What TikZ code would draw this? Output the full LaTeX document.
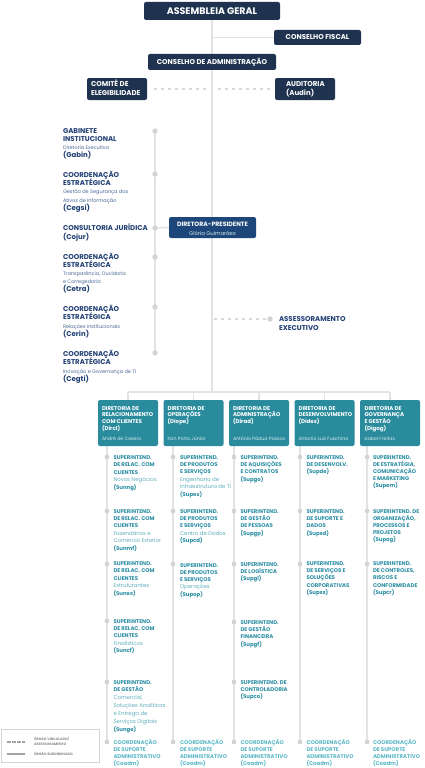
\documentclass[tikz,border=0pt]{standalone}
\usepackage{fontspec}
\setmainfont{Poppins}
\usetikzlibrary{backgrounds}
\definecolor{navy}{HTML}{1F3350}
\definecolor{dpblue}{HTML}{1D477A}
\definecolor{navytxt}{HTML}{213F74}
\definecolor{navylight}{HTML}{4A6898}
\definecolor{tealbox}{HTML}{2A8B9D}
\definecolor{tealtxt}{HTML}{2A8EA3}
\definecolor{teallight}{HTML}{5FAEBB}
\definecolor{tealname}{HTML}{D6ECF0}
\definecolor{coadmc}{HTML}{5BB7C6}
\definecolor{linegray}{HTML}{E3E3E3}
\definecolor{dotgray}{HTML}{D3D3D3}
\definecolor{dashgray}{HTML}{DADADA}
\definecolor{leggray}{HTML}{8C8C8C}
\newcommand\blk[2]{\vtop{\baselineskip=#1pt\lineskiplimit=-100pt\lineskip=0pt\halign{##\hfil\cr#2\crcr}}}
\newcommand\fT{\fontsize{9.5}{11}\selectfont\bfseries}
\newcommand\fB{\fontsize{7}{8}\selectfont\bfseries}
\newcommand\fL{\normalfont\fontsize{5}{6}\selectfont}
\newcommand\fD{\fontsize{5.5}{7}\selectfont\bfseries}
\newcommand\fN{\fontsize{4.7}{7}\selectfont}
\newcommand\fS{\fontsize{5.4}{7}\selectfont\bfseries}
\newcommand\fSL{\normalfont\fontsize{5.4}{7}\selectfont}
\newcommand\ltA{\fL\color{navylight}}
\newcommand\ltB{\fSL\color{teallight}}
\begin{document}
\begin{tikzpicture}[x=1pt,y=-1pt,
  every node/.style={inner sep=0pt, outer sep=0pt},
  navybox/.style={fill=navy, rounded corners=2pt, text=white, font=\fB, align=center},
  lc/.style={anchor=base west, text=navytxt, font=\fB},
  dot/.style={circle, fill=dotgray, minimum size=5.4pt},
  sdot/.style={circle, fill=dotgray, minimum size=4.8pt},
  gline/.style={draw=linegray, line width=1.3pt},
  dline/.style={draw=dashgray, line width=1.3pt, dash pattern=on 3pt off 4pt},
  tbox/.style={fill=tealbox, rounded corners=2pt, minimum width=60pt, minimum height=46pt, anchor=north west},
  tt/.style={anchor=base west, text=white, font=\fD},
  tn/.style={anchor=base west, text=tealname, font=\fN},
  st/.style={anchor=base west, text=tealtxt, font=\fS},
  co/.style={anchor=base west, text=coadmc, font=\fS}]
\useasboundingbox (0,0) rectangle (425,768);
% top boxes
\node[navybox, font=\fT, minimum width=136pt, minimum height=18pt] (ag) at (212,11) {ASSEMBLEIA GERAL};
\node[navybox, minimum width=87pt, minimum height=15pt] (cf) at (317.5,37.5) {CONSELHO FISCAL};
\node[navybox, minimum width=128pt, minimum height=16pt] (ca) at (212,62) {CONSELHO DE ADMINISTRAÇÃO};
\node[navybox, minimum width=60pt, minimum height=22pt, anchor=north west] (ce) at (87,78) {};
\node[anchor=base west, text=white, font=\fB] (cet) at (91,86.3) {\blk{8.7}{COMITÊ DE\cr ELEGIBILIDADE}};
\node[navybox, minimum width=60pt, minimum height=22pt, anchor=north west] (au) at (275,78) {};
\node[anchor=base west, text=white, font=\fB] (aut) at (286,86.3) {\blk{8.7}{AUDITORIA\cr (Audin)}};
\coordinate (barC) at (212,392);
% left column
\node[lc] (gab) at (63,133.5) {\blk{8.1}{GABINETE\cr INSTITUCIONAL\cr\ltA Diretoria Executiva\cr (Gabin)}};
\node[lc] (ceg) at (63,177.5) {\blk{8.2}{COORDENAÇÃO\cr ESTRATÉGICA\cr\ltA Gestão de Segurança dos\cr\ltA Ativos de Informação\cr (Cegsi)}};
\node[lc] (coj) at (63,230.5) {\blk{9}{CONSULTORIA JURÍDICA\cr (Cojur)}};
\node[lc] (cet2) at (63,259.5) {\blk{8}{COORDENAÇÃO\cr ESTRATÉGICA\cr\ltA Transparência, Ouvidoria\cr\ltA e Corregedoria\cr (Cetra)}};
\node[lc] (cer) at (63,311.5) {\blk{8.3}{COORDENAÇÃO\cr ESTRATÉGICA\cr\ltA Relações Institucionais\cr (Cerin)}};
\node[lc] (cti) at (63,356.5) {\blk{8.3}{COORDENAÇÃO\cr ESTRATÉGICA\cr\ltA Inovação e Governança de TI\cr (Cegti)}};
\node[dot] (p1) at (155,131) {};
\node[dot] (p2) at (155,174) {};
\node[dot] (p3) at (155,228) {};
\node[dot] (p4) at (155,257) {};
\node[dot] (p5) at (155,307) {};
\node[dot] (p6) at (155,353) {};
\node[fill=dpblue, rounded corners=2pt, minimum width=87pt, minimum height=21pt, anchor=north west] (dp) at (169,217) {};
\node[text=white, font=\fontsize{6.2}{7}\selectfont\bfseries] (dpt) at (212.5,224) {DIRETORA-PRESIDENTE};
\node[text=tealname, font=\fontsize{5.3}{7}\selectfont] (dpn) at (212.5,233) {Glória Guimarães};
% assessoramento
\node[dot] (aed) at (270,319) {};
\node[lc] (ae) at (279,321.5) {\blk{8.7}{ASSESSORAMENTO\cr EXECUTIVO}};
% directorates
\node[tbox] (d1) at (98,400) {};
\node[tt] (d1t) at (102,410) {\blk{6.9}{DIRETORIA DE\cr RELACIONAMENTO\cr COM CLIENTES\cr (Dircl)}};
\node[tn] (d1n) at (102,440) {André de Cesero};
\node[tbox] (d2) at (163.5,400) {};
\node[tt] (d2t) at (167.5,410) {\blk{6.9}{DIRETORIA DE\cr OPERAÇÕES\cr (Diope)}};
\node[tn] (d2n) at (167.5,440) {Iran Porto Júnior};
\node[tbox] (d3) at (229,400) {};
\node[tt] (d3t) at (233,410) {\blk{6.9}{DIRETORIA DE\cr ADMINISTRAÇÃO\cr (Dirad)}};
\node[tn] (d3n) at (233,440) {Antônio Pádua Passos};
\node[tbox] (d4) at (294.5,400) {};
\node[tt] (d4t) at (298.5,410) {\blk{6.9}{DIRETORIA DE\cr DESENVOLVIMENTO\cr (Dides)}};
\node[tn] (d4n) at (298.5,440) {Antonio Luiz Fuschino};
\node[tbox] (d5) at (360,400) {};
\node[tt] (d5t) at (364.5,410) {\blk{6.9}{DIRETORIA DE\cr GOVERNANÇA\cr E GESTÃO\cr (Digog)}};
\node[tn] (d5n) at (364.5,440) {Izabel Freitas};
% column 1
\node[sdot] (a1) at (107,457) {};
\node[st] (a1t) at (113.5,459) {\blk{7.5}{SUPERINTEND.\cr DE RELAC. COM\cr CLIENTES\cr\ltB Novos Negócios\cr (Sunng)}};
\node[sdot] (a2) at (107,511) {};
\node[st] (a2t) at (113.5,513) {\blk{7.4}{SUPERINTEND.\cr DE RELAC. COM\cr CLIENTES\cr\ltB Fazendários e\cr\ltB Comércio Exterior\cr (Sunmf)}};
\node[sdot] (a3) at (107,564) {};
\node[st] (a3t) at (113.5,565.5) {\blk{7.4}{SUPERINTEND.\cr DE RELAC. COM\cr CLIENTES\cr\ltB Estruturantes\cr (Sunes)}};
\node[sdot] (a4) at (107,621) {};
\node[st] (a4t) at (113.5,623) {\blk{7.4}{SUPERINTEND.\cr DE RELAC. COM\cr CLIENTES\cr\ltB Finalísticos\cr (Suncf)}};
\node[sdot] (a5) at (107,682) {};
\node[st] (a5t) at (113.5,684) {\blk{7.9}{SUPERINTEND.\cr DE GESTÃO\cr\ltB Comercial,\cr\ltB Soluções Analíticas\cr\ltB e Entrega de\cr\ltB Serviços Digitais\cr (Sunge)}};
\node[sdot] (a6) at (107,742) {};
\node[co] (a6t) at (113.5,744) {\blk{7}{COORDENAÇÃO\cr DE SUPORTE\cr ADMINISTRATIVO\cr (Coadm)}};
% column 2
\node[sdot] (b1) at (173,457) {};
\node[st] (b1t) at (180,459) {\blk{7.4}{SUPERINTEND.\cr DE PRODUTOS\cr E SERVIÇOS\cr\ltB Engenharia de\cr\ltB Infraestrutura de TI\cr (Supes)}};
\node[sdot] (b2) at (173,511) {};
\node[st] (b2t) at (180,513) {\blk{7.4}{SUPERINTEND.\cr DE PRODUTOS\cr E SERVIÇOS\cr\ltB Centro de Dados\cr (Supcd)}};
\node[sdot] (b3) at (173,564) {};
\node[st] (b3t) at (180,567) {\blk{7.3}{SUPERINTEND.\cr DE PRODUTOS\cr E SERVIÇOS\cr\ltB Operações\cr (Supop)}};
\node[sdot] (b6) at (173,742) {};
\node[co] (b6t) at (180,744) {\blk{7}{COORDENAÇÃO\cr DE SUPORTE\cr ADMINISTRATIVO\cr (Coadm)}};
% column 3
\node[sdot] (c1) at (234,457) {};
\node[st] (c1t) at (240.5,459) {\blk{7.4}{SUPERINTEND.\cr DE AQUISIÇÕES\cr E CONTRATOS\cr (Supgo)}};
\node[sdot] (c2) at (234,511) {};
\node[st] (c2t) at (240.5,513) {\blk{7.4}{SUPERINTEND.\cr DE GESTÃO\cr DE PESSOAS\cr (Supgp)}};
\node[sdot] (c3) at (234,564) {};
\node[st] (c3t) at (240.5,566) {\blk{7.4}{SUPERINTEND.\cr DE LOGÍSTICA\cr (Supgl)}};
\node[sdot] (c4) at (234,622) {};
\node[st] (c4t) at (240.5,624) {\blk{7.4}{SUPERINTEND.\cr DE GESTÃO\cr FINANCEIRA\cr (Supgf)}};
\node[sdot] (c5) at (234,682) {};
\node[st] (c5t) at (240.5,684) {\blk{7.4}{SUPERINTEND. DE\cr CONTROLADORIA\cr (Supco)}};
\node[sdot] (c6) at (234,742) {};
\node[co] (c6t) at (240.5,744) {\blk{7}{COORDENAÇÃO\cr DE SUPORTE\cr ADMINISTRATIVO\cr (Coadm)}};
% column 4
\node[sdot] (e1) at (300,457) {};
\node[st] (e1t) at (306.5,459) {\blk{7.4}{SUPERINTEND.\cr DE DESENVOLV.\cr (Supde)}};
\node[sdot] (e2) at (300,511) {};
\node[st] (e2t) at (306.5,513) {\blk{7.4}{SUPERINTEND.\cr DE SUPORTE E\cr DADOS\cr (Supsd)}};
\node[sdot] (e3) at (300,564) {};
\node[st] (e3t) at (306.5,565.5) {\blk{7.2}{SUPERINTEND.\cr DE SERVIÇOS E\cr SOLUÇÕES\cr CORPORATIVAS\cr (Supss)}};
\node[sdot] (e6) at (300,742) {};
\node[co] (e6t) at (306.5,744) {\blk{7}{COORDENAÇÃO\cr DE SUPORTE\cr ADMINISTRATIVO\cr (Coadm)}};
% column 5
\node[sdot] (f1) at (367,457) {};
\node[st] (f1t) at (373,459) {\blk{7.2}{SUPERINTEND.\cr DE ESTRATÉGIA,\cr COMUNICAÇÃO\cr E MARKETING\cr (Supem)}};
\node[sdot] (f2) at (367,511) {};
\node[st] (f2t) at (373,513) {\blk{7.2}{SUPERINTEND. DE\cr ORGANIZAÇÃO,\cr PROCESSOS E\cr PROJETOS\cr (Supog)}};
\node[sdot] (f3) at (367,564) {};
\node[st] (f3t) at (373,565.5) {\blk{7.2}{SUPERINTEND.\cr DE CONTROLES,\cr RISCOS E\cr CONFORMIDADE\cr (Supcr)}};
\node[sdot] (f6) at (367,742) {};
\node[co] (f6t) at (373,744) {\blk{7}{COORDENAÇÃO\cr DE SUPORTE\cr ADMINISTRATIVO\cr (Coadm)}};
% legend
\node[draw=dotgray, line width=0.6pt, minimum width=98pt, minimum height=33pt, anchor=north west] (leg) at (1,729) {};
\coordinate (l1a) at (7,742); \coordinate (l1b) at (25,742);
\coordinate (l2a) at (7,754); \coordinate (l2b) at (25,754);
\node[anchor=base west, text=leggray, font=\fontsize{3.4}{4}\selectfont\bfseries] (lt1) at (34,740.5) {\blk{5}{ÓRGÃO VINCULADO/\cr ASSESSORAMENTO}};
\node[anchor=base west, text=leggray, font=\fontsize{3.4}{4}\selectfont\bfseries] (lt2) at (34,755.5) {ÓRGÃO SUBORDINADO};
\draw[draw=leggray!80, line width=1.3pt, dash pattern=on 3.5pt off 1.5pt] (l1a) -- (l1b);
\draw[draw=leggray!80, line width=1.3pt] (l2a) -- (l2b);
% connectors
\begin{scope}[on background layer]
\draw[gline, line width=1.2pt] (ag.south) -- (barC);
\draw[gline, line width=1.6pt] (ag.south |- cf.west) -- (cf.west);
\draw[dline] ([xshift=7pt]ce.east) -- ([xshift=-5pt]ag.south |- ce.east);
\draw[dline] ([xshift=6pt]ag.south |- au.west) -- ([xshift=-3pt]au.west);
\draw[gline, line width=2pt] (p1.center) -- (p6.center);
\draw[gline, line width=1.6pt] (p3.center) -- (dp.west);
\draw[dline, dash pattern=on 2.5pt off 4.5pt] ([xshift=2pt]barC |- aed) -- (aed.west);
\draw[gline] (d1.north |- barC) -- (d5.north |- barC);
\foreach \d in {d1,d2,d3,d4,d5} {\draw[gline] (\d.north |- barC) -- (\d.north);}
\draw[gline] (d1.south -| a1) -- (a6.center);
\draw[gline] (d2.south -| b1) -- (b6.center);
\draw[gline] (d3.south -| c1) -- (c6.center);
\draw[gline] (d4.south -| e1) -- (e6.center);
\draw[gline] (d5.south -| f1) -- (f6.center);
\end{scope}
\end{tikzpicture}
\end{document}
